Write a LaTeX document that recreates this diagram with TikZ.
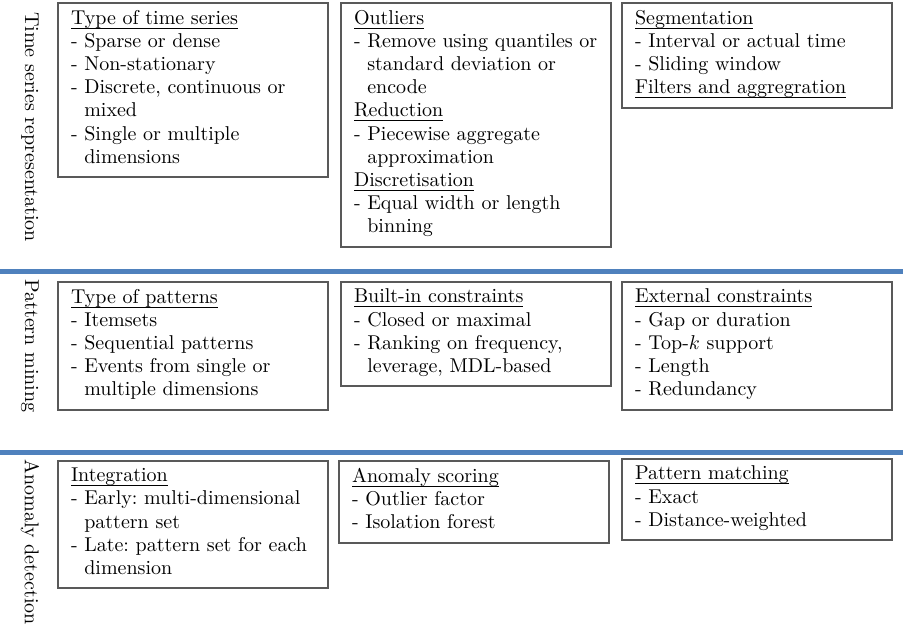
\documentclass[tikz,border=0pt]{standalone}
\usetikzlibrary{positioning}
\definecolor{rulecol}{RGB}{79,129,189}
\definecolor{boxcol}{RGB}{89,89,89}
\newcommand{\hd}[1]{\leavevmode\setbox0\hbox{#1}\rlap{\rule[-2.1pt]{\wd0}{0.4pt}}\box0}
\newcommand{\cont}{\hphantom{- }}
\frenchspacing
\tikzset{catbox/.style={rectangle,draw=boxcol,line width=1pt,anchor=north west,align=left,text width=122pt,inner xsep=6.5pt,inner ysep=3.5pt,font=\fontsize{10}{11.6}\selectfont,execute at end node=\strut},
sidelabel/.style={rotate=-90,font=\fontsize{10}{11.6}\selectfont},
sepline/.style={rulecol,line width=2.5pt}}

\begin{document}
\begin{tikzpicture}[x=0.5pt,y=-0.5pt]
\useasboundingbox (0,0) rectangle (903,629);
% row labels
\node[sidelabel] (tsLabel) at (30,127) {Time series representation};
\node[sidelabel] (pmLabel) at (30,346) {Pattern mining};
\node[sidelabel] (adLabel) at (30,542) {Anomaly detection};
% separators
\draw[sepline] (0,271) -- (903,271);
\draw[sepline] (0,452) -- (903,452);
% time series representation
\node[catbox] (tsType) at (57,2) {\hd{Type of time series}\\- Sparse or dense\\- Non-stationary\\- Discrete, continuous or\\\cont mixed\\- Single or multiple\\\cont dimensions};
\node[catbox] (tsPrep) at (340,2) {\hd{Outliers}\\- Remove using quantiles or\\\cont standard deviation or\\\cont encode\\\hd{Reduction}\\- Piecewise aggregate\\\cont approximation\\\hd{Discretisation}\\- Equal width or length\\\cont binning};
\node[catbox] (tsSeg) at (621,2) {\hd{Segmentation}\\- Interval or actual time\\- Sliding window\\\hd{Filters and aggregration}};
% pattern mining
\node[catbox] (pmType) at (57,281) {\hd{Type of patterns}\\- Itemsets\\- Sequential patterns\\- Events from single or\\\cont multiple dimensions};
\node[catbox] (pmBuilt) at (340,281) {\hd{Built-in constraints}\\- Closed or maximal\\- Ranking on frequency,\\\cont leverage, MDL-based};
\node[catbox] (pmExt) at (621,281) {\hd{External constraints}\\- Gap or duration\\- Top-$k$ support\\- Length\\- Redundancy};
% anomaly detection
\node[catbox] (adInt) at (57,460) {\hd{Integration}\\- Early: multi-dimensional\\\cont pattern set\\- Late: pattern set for each\\\cont dimension};
\node[catbox] (adScore) at (338,460) {\hd{Anomaly scoring}\\- Outlier factor\\- Isolation forest};
\node[catbox] (adMatch) at (621,458) {\hd{Pattern matching}\\- Exact\\- Distance-weighted};
\end{tikzpicture}
\end{document}
